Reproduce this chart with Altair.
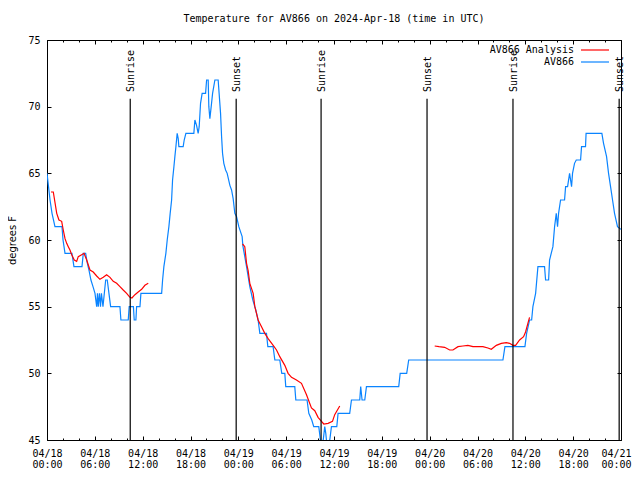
import altair as alt
import pandas as pd

# ---- data (hours since 2024-04-18 00:00 UTC, degrees F) ----
blue_hours = [0.00, 0.19, 0.38, 0.63, 1.00, 1.88, 2.01, 2.26, 3.13, 3.38, 4.39, 4.55, 4.85, 5.01, 5.26,
              5.51, 5.77, 6.02, 6.23, 6.33, 6.43, 6.58, 6.71, 6.83, 7.02, 7.36, 7.56, 7.77, 7.98, 9.15,
              9.27, 10.19, 10.31, 10.84, 10.94, 11.15, 11.24, 11.66, 11.78, 14.38, 14.50, 14.66, 14.91,
              15.08, 15.29, 15.45, 15.63, 15.75, 15.92, 16.04, 16.17, 16.33, 16.46, 16.54, 17.08, 17.21,
              17.42, 18.42, 18.55, 18.76, 18.96, 19.09, 19.26, 19.46, 19.89, 20.02, 20.22, 20.30, 20.43,
              20.64, 20.77, 21.06, 21.47, 21.59, 21.77, 21.90, 22.02, 22.18, 22.40, 22.60, 22.94, 23.15,
              23.35, 23.56, 23.78, 24.06, 24.48, 24.56, 25.03, 25.44, 25.82, 26.19, 26.48, 26.70, 27.53,
              27.70, 28.36, 28.58, 29.20, 29.45, 29.83, 29.95, 31.08, 31.21, 32.62, 32.84, 33.21, 33.46,
              34.09, 34.30, 34.47, 34.65, 34.84, 34.97, 35.05, 35.22, 35.47, 35.68, 36.35, 36.51, 37.97,
              38.19, 39.23, 39.35, 39.52, 39.86, 40.07, 44.12, 44.30, 45.12, 45.37, 57.19, 57.44, 59.95,
              60.16, 60.53, 60.79, 60.95, 61.29, 61.58, 62.41, 62.54, 62.92, 63.04, 63.46, 63.67, 63.88,
              64.04, 64.17, 64.42, 64.92, 65.05, 65.30, 65.55, 65.80, 65.92, 66.17, 66.39, 66.93, 67.05,
              67.55, 67.62, 69.60, 69.81, 70.19, 70.44, 70.69, 70.94, 71.19, 71.56, 71.98]
blue_temps = [65, 64, 63, 62, 61, 61, 60, 59, 59, 58, 58, 59, 59, 58.4, 57.75,
              57, 56.5, 56, 55, 56, 55, 56, 55, 56, 55, 57, 57, 56, 55, 55,
              54, 54, 55, 55, 54, 54, 55, 55, 56, 56, 57, 58, 59,
              60, 61, 62, 63, 64.5, 65.5, 66.25, 67, 68, 67.6, 67, 67, 67.5,
              68, 68, 69, 68.6, 68, 68.5, 70.25, 71, 71, 72, 72, 70, 69.1,
              70.25, 71, 72, 72, 71, 69.5, 67.75, 66.5, 65.75, 65.25, 65, 64.1, 63.75,
              63.1, 62, 61.75, 61, 60.25, 59.6, 58, 56.5, 55.5, 54.75, 54, 53, 53,
              52, 52, 51, 51, 50, 50, 49, 49, 48, 48, 47, 46.5, 46,
              46, 45, 44.5, 45, 46, 45.5, 45, 44.5, 45, 46, 46, 47, 47,
              48, 48, 49, 48, 48, 49, 49, 50, 50, 51, 51, 52, 52,
              53, 54, 54, 55, 56, 58, 58, 57, 57, 58.5, 59.5, 61, 62,
              61, 62, 63, 63, 64, 64, 65, 64, 65, 65.75, 66, 66, 67,
              67, 68, 68, 67.25, 66.25, 65, 64, 63, 62, 61, 60.8]

red_hours = [0.50, 0.79, 1.22, 1.50, 1.84, 2.04, 2.26, 2.47, 2.67, 2.88, 3.10, 3.42, 3.72, 3.92, 4.35,
             4.64, 4.98, 5.39, 5.80, 6.23, 6.64, 7.06, 7.48, 7.90, 8.31, 8.74, 9.15, 9.56, 9.99, 10.40,
             10.65, 11.03, 11.44, 11.87, 12.28, 12.70,
             24.53, 24.81, 25.03, 25.23, 25.44, 25.86, 26.07, 26.28, 26.48, 26.91, 27.32, 27.74, 28.37,
             28.79, 29.20, 29.83, 30.24, 30.67, 31.29, 31.92, 32.55, 33.17, 33.59, 34.00, 34.43, 34.72,
             35.26, 35.81, 36.09, 36.43, 36.72,
             48.63, 49.17, 49.88, 50.51, 50.92, 51.55, 52.17, 52.80, 53.43, 54.68, 55.31, 55.73, 56.36,
             56.99, 57.61, 58.03, 58.44, 58.78, 59.28, 59.78, 60.03, 60.32, 60.53]
red_temps = [63.6, 63.6, 62.0, 61.5, 61.4, 60.75, 60.1, 59.75, 59.5, 59.25, 58.9, 58.5, 58.4, 58.75, 58.9,
             59.0, 58.5, 57.75, 57.6, 57.3, 57.05, 57.2, 57.4, 57.2, 56.9, 56.75, 56.5, 56.25, 56.0, 55.7,
             55.65, 55.9, 56.1, 56.3, 56.6, 56.75,
             59.7, 59.5, 58.25, 57.7, 56.75, 56.0, 55.0, 54.5, 54.0, 53.5, 53.0, 52.6, 52.1,
             51.75, 51.25, 50.6, 50.0, 49.7, 49.5, 49.25, 48.4, 47.4, 47.2, 46.7, 46.4, 46.2,
             46.25, 46.4, 46.9, 47.25, 47.55,
             52.05, 52.0, 51.95, 51.75, 51.75, 52.0, 52.05, 52.1, 52.0, 52.0, 51.9, 51.8, 52.1,
             52.25, 52.3, 52.25, 52.1, 52.1, 52.5, 52.75, 53.1, 53.75, 54.2]
red_segment = [1] * 36 + [2] * 31 + [3] * 23

sun_hours = [10.44, 23.73, 34.38, 47.67, 58.45, 71.77]
sun_labels = ["Sunrise", "Sunset", "Sunrise", "Sunset", "Sunrise", "Sunset"]

y_ticks = [45, 50, 55, 60, 65, 70, 75]
x_major = [0, 6, 12, 18, 24, 30, 36, 42, 48, 54, 60, 66, 72]
x_minor = [0, 2, 4, 6, 8, 10, 12, 14, 16, 18, 20, 22, 24, 26, 28, 30, 32, 34, 36,
           38, 40, 42, 44, 46, 48, 50, 52, 54, 56, 58, 60, 62, 64, 66, 68, 70, 72]

legend_names = ["AV866 Analysis", "AV866"]

# ---- chart ----
FONT = "DejaVu Sans Mono"
BLUE = "#0a84ff"
RED = "#ff0000"

blue_df = pd.DataFrame({"h": blue_hours, "t": blue_temps})
red_df = pd.DataFrame({"h": red_hours, "t": red_temps, "seg": red_segment})
sun_df = pd.DataFrame({"h": sun_hours, "label": sun_labels})

xscale = alt.Scale(domain=[0, 72], nice=False, zero=False)
yscale = alt.Scale(domain=[45, 75], nice=False, zero=False)

date_expr = "(datum.value % 6) == 0 ? ('04/' + (18 + floor(datum.value / 24))) : ''"
time_expr = "(((datum.value % 24) < 10 ? '0' : '') + (datum.value % 24) + ':00')"
last_shift = {"condition": {"test": "datum.value == 72", "value": -5}, "value": 0}

common_axis = dict(domain=False, grid=False, tickColor="black", tickWidth=1,
                   labelFont=FONT, labelFontSize=10, labelColor="black",
                   titleFontSize=10, titleFontWeight="normal", titleColor="black")

x_bottom_major = alt.Axis(orient="bottom", values=x_major, tickSize=4, offset=-4, labelPadding=19,
                          labelExpr=time_expr, labelOverlap=False, labelFlush=False,
                          labelOffset=last_shift,
                          labelBaseline="top", title=None, **common_axis)
x_bottom_minor = alt.Axis(orient="bottom", values=x_minor, tickSize=2, offset=-2, labelPadding=8,
                          labelExpr=date_expr, labelOverlap=False, labelFlush=False,
                          labelOffset=last_shift,
                          labelBaseline="top", title=None, **common_axis)
x_top_major = alt.Axis(orient="top", values=x_major, tickSize=4, offset=-4, labels=False,
                       title=None, **common_axis)
x_top_minor = alt.Axis(orient="top", values=x_minor, tickSize=2, offset=-2, labels=False,
                       title=None, **common_axis)
y_left = alt.Axis(orient="left", values=y_ticks, tickSize=4, offset=-4, labelPadding=7,
                  title="degrees F", titlePadding=10, titleFont="DejaVu Sans", **common_axis)
y_right = alt.Axis(orient="right", values=y_ticks, tickSize=4, offset=-4, labels=False,
                   title=None, **common_axis)

blue_line = alt.Chart(blue_df).mark_line(color=BLUE, strokeWidth=1.2, clip=True).encode(
    x=alt.X("h:Q", scale=xscale, axis=x_bottom_major),
    y=alt.Y("t:Q", scale=yscale, axis=y_left),
    order="h:Q",
)

red_line = alt.Chart(red_df).mark_line(color=RED, strokeWidth=1.2, clip=True).encode(
    x=alt.X("h:Q", scale=xscale, axis=x_bottom_minor),
    y=alt.Y("t:Q", scale=yscale, axis=y_right),
    detail="seg:N",
    order="h:Q",
)

sun_rules = alt.Chart(sun_df).mark_rule(color="black", strokeWidth=1.2).encode(
    x=alt.X("h:Q", scale=xscale, axis=x_top_major),
    y=alt.Y(datum=45, scale=yscale, axis=None),
    y2=alt.Y2(datum=70.6),
)

sun_text = alt.Chart(sun_df).mark_text(
    angle=270, align="left", baseline="middle", dy=1, font=FONT, fontSize=10, color="black"
).encode(
    x=alt.X("h:Q", scale=xscale, axis=x_top_minor),
    y=alt.Y(datum=71.1, scale=yscale, axis=None),
    text="label:N",
)

leg_text1 = alt.Chart(pd.DataFrame({"n": [legend_names[0]]})).mark_text(
    align="right", baseline="middle", font=FONT, fontSize=10, color="black"
).encode(x=alt.value(527), y=alt.value(10), text="n:N")
leg_text2 = alt.Chart(pd.DataFrame({"n": [legend_names[1]]})).mark_text(
    align="right", baseline="middle", font=FONT, fontSize=10, color="black"
).encode(x=alt.value(527), y=alt.value(22), text="n:N")
leg_rule1 = alt.Chart(pd.DataFrame({"n": [legend_names[0]]})).mark_rule(color=RED, strokeWidth=1.2).encode(
    x=alt.value(534), x2=alt.value(562), y=alt.value(10))
leg_rule2 = alt.Chart(pd.DataFrame({"n": [legend_names[1]]})).mark_rule(color=BLUE, strokeWidth=1.2).encode(
    x=alt.value(534), x2=alt.value(562), y=alt.value(22))

chart = alt.layer(
    blue_line, red_line, sun_rules, sun_text, leg_text1, leg_text2, leg_rule1, leg_rule2
).resolve_axis(x="independent", y="independent").properties(
    width=574,
    height=400,
    title=alt.TitleParams("Temperature for AV866 on 2024-Apr-18 (time in UTC)", font=FONT,
                          fontSize=10, fontWeight="normal", color="black", anchor="middle",
                          offset=11),
    autosize=alt.AutoSizeParams(type="none"),
    padding={"left": 39, "top": 32, "right": 11, "bottom": 32},
    background="white",
).configure_view(stroke="black", strokeWidth=1)

chart.save("out.html", embed_options={"renderer": "svg", "actions": False})
